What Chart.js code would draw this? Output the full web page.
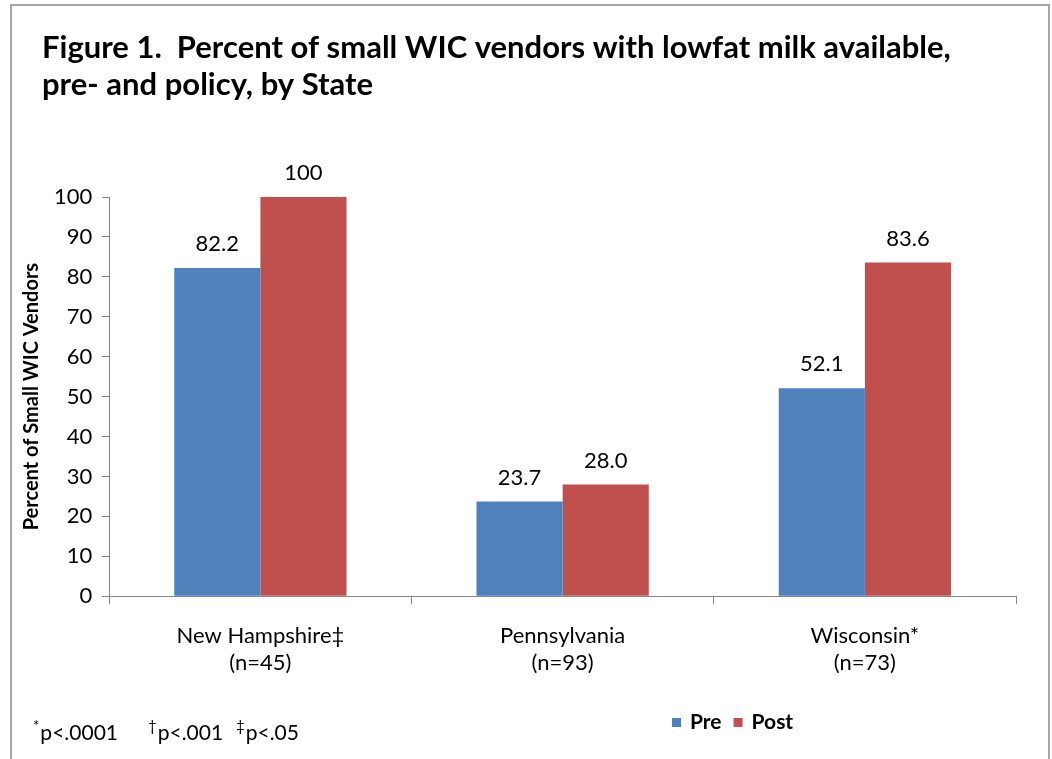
<!DOCTYPE html>
<html>
<head>
<meta charset="utf-8">
<script src="https://cdn.jsdelivr.net/npm/chart.js@4.4.1/dist/chart.umd.min.js"></script>
<style>
  html, body { margin: 0; padding: 0; background: #fff; }
  #wrap { width: 1052px; height: 759px; position: relative; }
</style>
</head>
<body>
<div id="wrap"><canvas id="milkChart"></canvas></div>
<script>
// values
var states = [['New Hampshire\u2021', '(n=45)'], ['Pennsylvania', '(n=93)'], ['Wisconsin*', '(n=73)']];
var preValues = [82.2, 23.7, 52.1];
var postValues = [100, 28.0, 83.6];
var yTicks = [0, 10, 20, 30, 40, 50, 60, 70, 80, 90, 100];

var titleLines = ['Figure 1.  Percent of small WIC vendors with lowfat milk available,', 'pre- and policy, by State'];
var fontFamily = 'Lato, "Open Sans", sans-serif';
var axisGray = '#868686';

function fmt(v) {
    return v === 100 ? '100' : v.toFixed(1);
}

var extras = {
    id: 'extras',
    beforeDraw: function(chart) {
        var ctx = chart.ctx;
        ctx.save();
        ctx.fillStyle = '#fff';
        ctx.fillRect(0, 0, chart.width, chart.height);
        ctx.strokeStyle = '#a6a6a6';
        ctx.lineWidth = 2;
        ctx.strokeRect(11, 5, 1038, 770);
        ctx.restore();
    },
    afterDatasetsDraw: function(chart) {
        var ctx = chart.ctx;
        ctx.save();
        ctx.fillStyle = '#000';
        ctx.font = '22px ' + fontFamily;
        ctx.textAlign = 'center';
        ctx.textBaseline = 'middle';
        chart.data.datasets.forEach(function(ds, i) {
            chart.getDatasetMeta(i).data.forEach(function(bar, j) {
                ctx.fillText(fmt(ds.data[j]), bar.x, bar.y - 24);
            });
        });
        ctx.restore();
    },
    afterDraw: function(chart) {
        var ctx = chart.ctx;
        ctx.save();
        ctx.fillStyle = '#000';
        ctx.textBaseline = 'middle';
        ctx.textAlign = 'left';

        // title
        ctx.font = 'bold 31px ' + fontFamily;
        ctx.fillText(titleLines[0], 42, 48);
        ctx.fillText(titleLines[1], 42, 85);

        // legend
        ctx.font = 'bold 21px ' + fontFamily;
        var lx = 672;
        chart.data.datasets.forEach(function(ds) {
            ctx.fillStyle = ds.backgroundColor;
            ctx.fillRect(lx, 718, 9, 9);
            ctx.fillStyle = '#000';
            ctx.fillText(ds.label, lx + 18, 722);
            lx += 18 + ctx.measureText(ds.label).width + 12;
        });

        // footnote
        var notes = [['*', 'p<.0001', 33], ['\u2020', 'p<.001', 148], ['\u2021', 'p<.05', 236]];
        notes.forEach(function(n) {
            ctx.font = '15px ' + fontFamily;
            ctx.fillText(n[0], n[2], 726);
            var w = ctx.measureText(n[0]).width;
            ctx.font = '21px ' + fontFamily;
            ctx.fillText(n[1], n[2] + w + 1, 733);
        });
        ctx.restore();
    }
};

document.addEventListener('DOMContentLoaded', function() {
    var ctx = document.getElementById('milkChart').getContext('2d');
    new Chart(ctx, {
        type: 'bar',
        data: {
            labels: states,
            datasets: [{
                label: 'Pre',
                data: preValues,
                backgroundColor: '#4f81bd'
            }, {
                label: 'Post',
                data: postValues,
                backgroundColor: '#c0504d'
            }]
        },
        options: {
            responsive: true,
            maintainAspectRatio: false,
            animation: false,
            layout: {
                padding: { top: 197, left: 18, right: 36, bottom: 64 }
            },
            plugins: {
                legend: { display: false },
                title: { display: false },
                tooltip: { enabled: false }
            },
            datasets: {
                bar: { barPercentage: 1.0, categoryPercentage: 0.57 }
            },
            scales: {
                x: {
                    grid: { drawOnChartArea: false, drawTicks: true, tickLength: 8, color: axisGray },
                    border: { color: axisGray },
                    ticks: {
                        color: '#000',
                        padding: 19,
                        font: { family: fontFamily, size: 22, lineHeight: 1.2 }
                    }
                },
                y: {
                    min: 0,
                    max: 100,
                    afterBuildTicks: function(axis) {
                        axis.ticks = yTicks.map(function(v) { return { value: v }; });
                    },
                    grid: { drawOnChartArea: false, drawTicks: true, tickLength: 7, color: axisGray },
                    border: { color: axisGray },
                    ticks: {
                        color: '#000',
                        padding: 10,
                        font: { family: fontFamily, size: 22 }
                    },
                    title: {
                        display: true,
                        text: 'Percent of Small WIC Vendors',
                        color: '#000',
                        padding: { top: 2, bottom: 0 },
                        font: { family: fontFamily, size: 20, weight: 'bold', lineHeight: 1.2 }
                    }
                }
            }
        },
        plugins: [extras]
    });
});
</script>
</body>
</html>
